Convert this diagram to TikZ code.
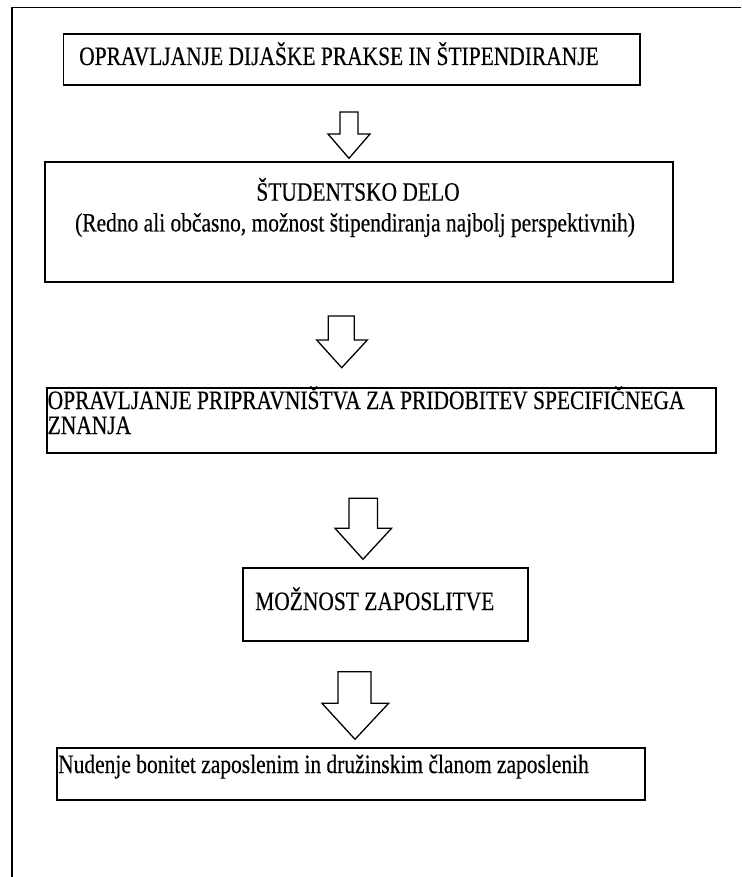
\documentclass[tikz,border=0pt]{standalone}
\usepackage{fontspec}
\setmainfont{Liberation Serif}[FakeStretch=0.81, FakeBold=0.35]
\tikzset{
  box/.style={draw=black, line width=1.6pt, inner sep=0pt, anchor=north west},
  txt/.style={font=\fontsize{26.5}{30}\selectfont, inner sep=0pt, text=black},
  barrow/.style={draw=black, line width=1.3pt, fill=white, line join=miter},
  frameline/.style={draw=black, line width=1.7pt}
}
\begin{document}
\begin{tikzpicture}[x=1pt,y=-1pt]
\useasboundingbox[fill=white] (0,0) rectangle (741,877);
% outer frame (only left and top edges visible)
\draw[frameline] (12,877) -- (12,7.5) -- (741,7.5);
% boxes
\node[box, minimum width=576.5pt, minimum height=50.5pt] (b1) at (62.5,33.5) {};
\node[box, minimum width=628pt, minimum height=120pt] (b2) at (44,161) {};
\node[box, minimum width=669pt, minimum height=65pt] (b3) at (46,387) {};
\node[box, minimum width=285pt, minimum height=73pt] (b4) at (242,567) {};
\node[box, minimum width=588pt, minimum height=52pt] (b5) at (56,747) {};
% texts
\node[txt, anchor=base west] (t1) at (79,65) {OPRAVLJANJE DIJAŠKE PRAKSE IN ŠTIPENDIRANJE};
\node[txt, anchor=base] (t2a) at (358,200.7) {ŠTUDENTSKO DELO};
\node[txt, anchor=base] (t2b) at (355,231.5) {(Redno ali občasno, možnost štipendiranja najbolj perspektivnih)};
\node[txt, anchor=base west] (t3a) at (47.5,409) {OPRAVLJANJE PRIPRAVNIŠTVA ZA PRIDOBITEV SPECIFIČNEGA};
\node[txt, anchor=base west] (t3b) at (47.5,434) {ZNANJA};
\node[txt, anchor=base west] (t4) at (255,610) {MOŽNOST ZAPOSLITVE};
\node[txt, anchor=base west] (t5) at (58,773) {Nudenje bonitet zaposlenim in družinskim članom zaposlenih};
% block arrows
\draw[barrow] (340,112) -- (358,112) -- (358,134) -- (370,134) -- (349,158.3) -- (328,134) -- (340,134) -- cycle;
\draw[barrow] (328.3,316) -- (354.3,316) -- (354.3,340) -- (367.3,340) -- (341.7,367.7) -- (316.7,340) -- (328.3,340) -- cycle;
\draw[barrow] (349,498.3) -- (377.5,498.3) -- (377.5,528.3) -- (391.5,528.3) -- (363,559.3) -- (335,528.3) -- (349,528.3) -- cycle;
\draw[barrow] (338,671.7) -- (371,671.7) -- (371,703.3) -- (388.6,703.3) -- (355,739.3) -- (322,703.3) -- (338,703.3) -- cycle;
\end{tikzpicture}
\end{document}
